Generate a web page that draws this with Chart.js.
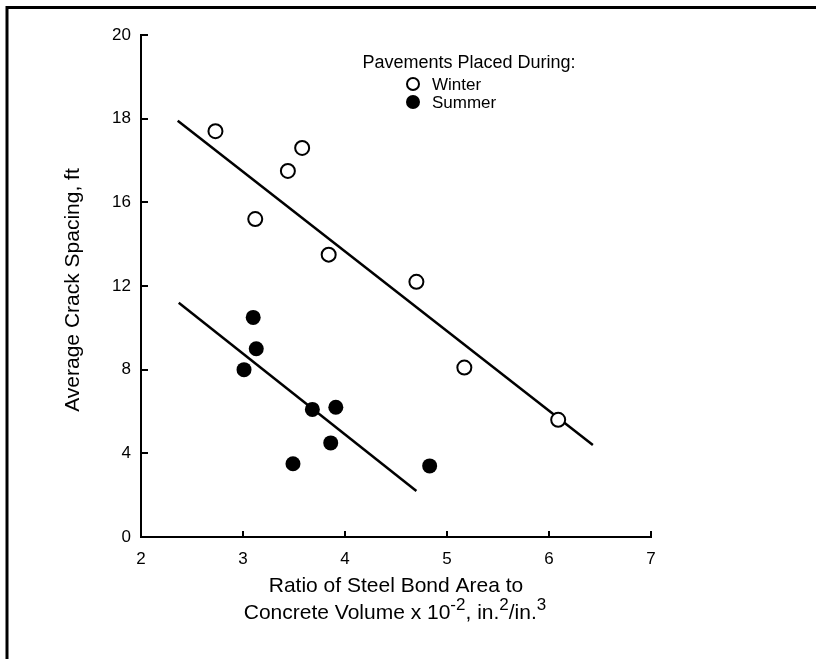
<!DOCTYPE html>
<html>
<head>
<meta charset="utf-8">
<script src="https://cdn.jsdelivr.net/npm/chart.js@4"></script>
<style>
    html, body { margin: 0; padding: 0; background: #fff; }
    #wrap { width: 816px; height: 659px; }
</style>
</head>
<body>
<div id="wrap"><canvas id="crackChart" width="816" height="659"></canvas></div>
<script>
// bond area ratio (x 10^-2 in.2/in.3) vs average crack spacing (ft)
const winterRatio   = [2.73, 3.12, 3.44, 3.58, 3.84, 4.70, 5.17, 6.09];
const winterSpacing = [17.7, 15.2, 16.75, 17.3, 13.5, 12.2, 8.1, 5.6];
const summerRatio   = [3.01, 3.10, 3.13, 3.49, 3.68, 3.86, 3.91, 4.83];
const summerSpacing = [8.0, 10.5, 9.0, 3.5, 6.1, 4.5, 6.2, 3.4];

// fitted trend lines, end points
const winterFitRatio   = [2.36, 6.43];
const winterFitSpacing = [17.95, 4.4];
const summerFitRatio   = [2.37, 4.70];
const summerFitSpacing = [11.2, 2.2];

const xTicks = [2, 3, 4, 5, 6, 7];
const yTicks = [0, 4, 8, 12, 16, 18, 20];
const yBreak = 16;

const legendTitle = 'Pavements Placed During:';
const seriesNames = ['Winter', 'Summer'];
const yTitle = 'Average Crack Spacing, ft';

const FONT = '"Liberation Sans", Arial, Helvetica, sans-serif';

// y axis: 4 ft per step up to 16, then 2 ft per step, every step the same height
class SplitLinearScale extends Chart.LinearScale {
    static id = 'splitLinear';
    static defaults = Chart.LinearScale.defaults;

    toStep(v) {
        return v <= yBreak ? v / 4 : yBreak / 4 + (v - yBreak) / 2;
    }
    fromStep(s) {
        return s <= yBreak / 4 ? s * 4 : yBreak + (s - yBreak / 4) * 2;
    }
    getPixelForValue(v) {
        const lo = this.toStep(this.min), hi = this.toStep(this.max);
        return this.getPixelForDecimal((this.toStep(v) - lo) / (hi - lo));
    }
    getValueForPixel(p) {
        const lo = this.toStep(this.min), hi = this.toStep(this.max);
        return this.fromStep(lo + this.getDecimalForPixel(p) * (hi - lo));
    }
}
Chart.register(SplitLinearScale);

function toPoints(xs, ys) {
    return xs.map((x, i) => ({ x: x, y: ys[i] }));
}

// frame, inward ticks, legend and axis titles
const decorations = {
    id: 'decorations',
    afterDraw(chart) {
        const ctx = chart.ctx;
        const xs = chart.scales.x, ys = chart.scales.y;
        const left = chart.chartArea.left, bottom = chart.chartArea.bottom;

        ctx.save();
        ctx.strokeStyle = '#000';
        ctx.fillStyle = '#000';

        // outer frame
        ctx.lineWidth = 3;
        ctx.beginPath();
        ctx.moveTo(7, 659);
        ctx.lineTo(7, 7.5);
        ctx.lineTo(816, 7.5);
        ctx.stroke();

        // ticks pointing into the plot
        ctx.lineWidth = 2;
        ctx.beginPath();
        yTicks.forEach(v => {
            if (v === 0) return;
            const py = Math.round(ys.getPixelForValue(v));
            ctx.moveTo(left, py);
            ctx.lineTo(left + 7, py);
        });
        xTicks.forEach(v => {
            if (v === xTicks[0]) return;
            const px = Math.round(xs.getPixelForValue(v));
            ctx.moveTo(px, bottom);
            ctx.lineTo(px, bottom - 6);
        });
        ctx.stroke();

        // legend
        ctx.textBaseline = 'middle';
        ctx.textAlign = 'center';
        ctx.font = '18px ' + FONT;
        ctx.fillText(legendTitle, 469, 63);
        ctx.textAlign = 'left';
        ctx.font = '17px ' + FONT;
        [0, 1].forEach(i => {
            const ds = chart.data.datasets[i];
            const cy = 84 + i * 18;
            ctx.beginPath();
            ctx.arc(413, cy, 6, 0, Math.PI * 2);
            ctx.fillStyle = ds.backgroundColor;
            ctx.fill();
            ctx.lineWidth = 2;
            ctx.strokeStyle = '#000';
            ctx.stroke();
            ctx.fillStyle = '#000';
            ctx.fillText(seriesNames[i], 432, cy + 1);
        });

        // y axis title
        ctx.save();
        ctx.translate(73, 290);
        ctx.rotate(-Math.PI / 2);
        ctx.textAlign = 'center';
        ctx.font = '21px ' + FONT;
        ctx.fillText(yTitle, 0, 0);
        ctx.restore();

        // x axis title, two lines with superscripts
        ctx.textAlign = 'center';
        ctx.textBaseline = 'alphabetic';
        ctx.font = '21px ' + FONT;
        ctx.fillText('Ratio of Steel Bond Area to', 396, 592);

        const parts = [
            ['Concrete Volume x 10', false],
            ['-2', true],
            [', in.', false],
            ['2', true],
            ['/in.', false],
            ['3', true]
        ];
        const big = '21px ' + FONT, small = '17px ' + FONT;
        let total = 0;
        parts.forEach(p => {
            ctx.font = p[1] ? small : big;
            total += ctx.measureText(p[0]).width;
        });
        let cx = 395 - total / 2;
        ctx.textAlign = 'left';
        parts.forEach(p => {
            ctx.font = p[1] ? small : big;
            ctx.fillText(p[0], cx, p[1] ? 610 : 619);
            cx += ctx.measureText(p[0]).width;
        });

        ctx.restore();
    }
};

const ctx = document.getElementById('crackChart').getContext('2d');

new Chart(ctx, {
    type: 'scatter',
    data: {
        datasets: [
            {
                label: seriesNames[0],
                data: toPoints(winterRatio, winterSpacing),
                pointStyle: 'circle',
                pointRadius: 7,
                pointBorderWidth: 2,
                backgroundColor: '#fff',
                borderColor: '#000'
            },
            {
                label: seriesNames[1],
                data: toPoints(summerRatio, summerSpacing),
                pointStyle: 'circle',
                pointRadius: 7.5,
                pointBorderWidth: 0,
                backgroundColor: '#000',
                borderColor: '#000'
            },
            {
                label: 'Winter fit',
                data: toPoints(winterFitRatio, winterFitSpacing),
                showLine: true,
                pointRadius: 0,
                borderColor: '#000',
                borderWidth: 2.5
            },
            {
                label: 'Summer fit',
                data: toPoints(summerFitRatio, summerFitSpacing),
                showLine: true,
                pointRadius: 0,
                borderColor: '#000',
                borderWidth: 2.5
            }
        ]
    },
    options: {
        responsive: false,
        animation: false,
        layout: {
            padding: { left: 0, top: 35, right: 165, bottom: 0 }
        },
        plugins: {
            legend: { display: false },
            tooltip: { enabled: false }
        },
        scales: {
            x: {
                type: 'linear',
                min: 2,
                max: 7,
                afterBuildTicks: axis => { axis.ticks = xTicks.map(v => ({ value: v })); },
                afterFit: axis => { axis.height = 122; },
                grid: { display: false, drawTicks: false },
                border: { display: true, color: '#000', width: 2 },
                ticks: {
                    color: '#000',
                    padding: 12,
                    font: { family: FONT, size: 17 }
                }
            },
            y: {
                type: 'splitLinear',
                min: 0,
                max: 20,
                afterBuildTicks: axis => { axis.ticks = yTicks.map(v => ({ value: v })); },
                afterFit: axis => { axis.width = 141; },
                grid: { display: false, drawTicks: false },
                border: { display: true, color: '#000', width: 2 },
                ticks: {
                    color: '#000',
                    padding: 10,
                    font: { family: FONT, size: 17 },
                    callback: v => String(v)
                }
            }
        }
    },
    plugins: [decorations]
});
</script>
</body>
</html>
